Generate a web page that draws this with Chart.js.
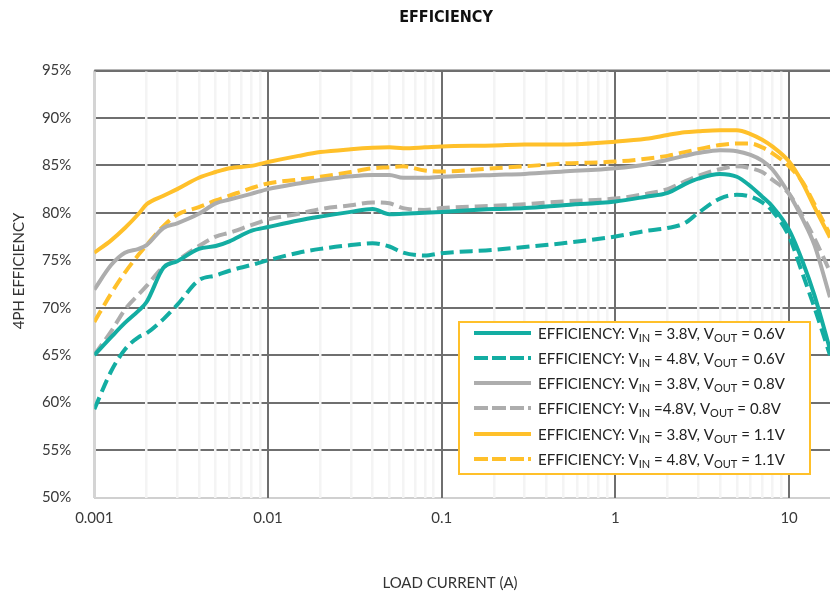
<!DOCTYPE html>
<html>
<head>
<meta charset="utf-8">
<style>
  html, body { margin: 0; padding: 0; background: #fff; }
  #wrap { width: 830px; height: 594px; }
</style>
<script src="https://cdn.jsdelivr.net/npm/chart.js@4.4.1/dist/chart.umd.min.js"></script>
</head>
<body>
<div id="wrap"><canvas id="eff-chart" width="830" height="594"></canvas></div>
<script>
// --- data (load current in A, efficiency in %) ---
const LOAD = [0.001, 0.00125, 0.0015, 0.0018, 0.002, 0.0025, 0.003, 0.004, 0.005, 0.006, 0.008,
  0.01, 0.015, 0.02, 0.03, 0.04, 0.05, 0.06, 0.08, 0.1, 0.2, 0.3, 0.5,
  1, 1.5, 2, 2.5, 3, 4, 5, 6, 7, 8, 10, 12, 14, 17.2];

const EFF_38_06 = [65.0, 66.9, 68.4, 69.7, 70.6, 74.2, 74.9, 76.2, 76.5, 77.0, 78.1,
  78.5, 79.2, 79.6, 80.1, 80.4, 79.85, 79.9, 80.0, 80.1, 80.4, 80.5, 80.8,
  81.2, 81.7, 82.1, 83.0, 83.6, 84.1, 83.8, 82.8, 81.7, 80.7, 78.2, 74.8, 71.3, 65.6];
const EFF_48_06 = [59.3, 63.3, 65.6, 66.9, 67.3, 68.8, 70.3, 72.9, 73.4, 73.9, 74.5,
  75.0, 75.8, 76.2, 76.6, 76.8, 76.45, 75.8, 75.5, 75.75, 76.1, 76.4, 76.8,
  77.5, 78.1, 78.4, 78.9, 80.0, 81.5, 81.9, 81.7, 81.1, 80.2, 77.5, 73.5, 70.0, 65.0];
const EFF_38_08 = [71.9, 74.5, 75.8, 76.2, 76.6, 78.4, 78.9, 79.9, 81.0, 81.4, 82.0,
  82.5, 83.1, 83.45, 83.85, 84.0, 84.0, 83.7, 83.7, 83.8, 84.0, 84.1, 84.35,
  84.7, 85.1, 85.6, 86.0, 86.3, 86.6, 86.5, 86.1, 85.5, 84.6, 82.0, 79.3, 76.6, 71.1];
const EFF_48_08 = [65.05, 67.5, 69.8, 71.4, 72.3, 74.3, 75.0, 76.5, 77.5, 77.9, 78.7,
  79.3, 79.9, 80.4, 80.8, 81.1, 81.0, 80.5, 80.3, 80.5, 80.75, 80.9, 81.2,
  81.5, 82.0, 82.5, 83.3, 83.9, 84.6, 84.9, 84.7, 84.3, 83.5, 82.0, 79.6, 77.3, 73.8];
const EFF_38_11 = [75.8, 77.1, 78.4, 79.9, 80.9, 81.8, 82.5, 83.7, 84.3, 84.7, 84.95,
  85.35, 86.0, 86.4, 86.7, 86.85, 86.9, 86.8, 86.9, 87.0, 87.1, 87.2, 87.2,
  87.5, 87.8, 88.2, 88.5, 88.6, 88.7, 88.7, 88.3, 87.7, 87.0, 85.4, 83.1, 80.6, 77.4];
const EFF_48_11 = [68.5, 71.5, 73.7, 75.6, 76.6, 78.6, 79.8, 80.6, 81.3, 81.8, 82.6,
  83.1, 83.5, 83.8, 84.3, 84.7, 84.8, 84.9, 84.45, 84.35, 84.7, 84.9, 85.2,
  85.4, 85.7, 86.0, 86.4, 86.7, 87.15, 87.3, 87.3, 86.9, 86.3, 84.9, 83.2, 80.9, 77.7];

// legend text pieces: normal, subscript, normal, subscript, normal
const LEGEND_TEXT = [
  ['EFFICIENCY: V', 'IN', ' = 3.8V, V', 'OUT', ' = 0.6V'],
  ['EFFICIENCY: V', 'IN', ' = 4.8V, V', 'OUT', ' = 0.6V'],
  ['EFFICIENCY: V', 'IN', ' = 3.8V, V', 'OUT', ' = 0.8V'],
  ['EFFICIENCY: V', 'IN', ' =4.8V, V', 'OUT', ' = 0.8V'],
  ['EFFICIENCY: V', 'IN', ' = 3.8V, V', 'OUT', ' = 1.1V'],
  ['EFFICIENCY: V', 'IN', ' = 4.8V, V', 'OUT', ' = 1.1V']
];

const X_MIN = 0.001;
const X_MAX = 17.2;
const DECADES = [0.001, 0.01, 0.1, 1, 10];
const X_TICK_LABELS = ['0.001', '0.01', '0.1', '1', '10'];

const TEAL = '#13ada2';
const GREY = '#adadad';
const GOLD = '#ffc02a';
const GRID = '#6f6f6f';
const FONT = 'Lato, "Open Sans", sans-serif';
const DASH = [13, 6];

const seriesList = [
  { data: EFF_38_06, color: TEAL, dashed: false },
  { data: EFF_48_06, color: TEAL, dashed: true },
  { data: EFF_38_08, color: GREY, dashed: false },
  { data: EFF_48_08, color: GREY, dashed: true },
  { data: EFF_38_11, color: GOLD, dashed: false },
  { data: EFF_48_11, color: GOLD, dashed: true }
];

const datasets = seriesList.map((s, i) => ({
  label: LEGEND_TEXT[i].join(''),
  data: LOAD.map((x, k) => ({ x: x, y: s.data[k] })),
  borderColor: s.color,
  borderWidth: 4,
  borderDash: s.dashed ? DASH : [],
  borderCapStyle: 'butt',
  pointRadius: 0,
  cubicInterpolationMode: 'monotone',
  fill: false
}));

// --- titles, top frame line, legend box ---
const decorPlugin = {
  id: 'decor',
  beforeDatasetsDraw(chart) {
    const { ctx, chartArea } = chart;
    const yTop = chart.scales.y.getPixelForValue(95);
    ctx.save();
    ctx.strokeStyle = GRID;
    ctx.lineWidth = 2;
    ctx.beginPath();
    ctx.moveTo(chartArea.left, yTop);
    ctx.lineTo(chartArea.right, yTop);
    ctx.stroke();
    ctx.restore();
  },
  afterDraw(chart) {
    const ctx = chart.ctx;
    ctx.save();
    ctx.fillStyle = '#111';
    ctx.textAlign = 'center';
    ctx.textBaseline = 'middle';
    ctx.font = 'bold 16px "Liberation Sans Narrow", "DejaVu Sans Condensed", sans-serif';
    ctx.fillText('EFFICIENCY', 446, 18);

    ctx.fillStyle = '#333';
    ctx.font = '15px ' + FONT;
    ctx.fillText('LOAD CURRENT (A)', 450, 583);
    ctx.save();
    ctx.translate(19, 271);
    ctx.rotate(-Math.PI / 2);
    ctx.fillText('4PH EFFICIENCY', 0, 0);
    ctx.restore();

    // legend
    const bx = 459, by = 322, bw = 351, bh = 152;
    ctx.fillStyle = '#fff';
    ctx.fillRect(bx, by, bw, bh);
    ctx.strokeStyle = GOLD;
    ctx.lineWidth = 2;
    ctx.strokeRect(bx, by, bw, bh);

    const rowY = [333, 358, 383, 408, 434, 459];
    seriesList.forEach((s, i) => {
      const y = rowY[i];
      ctx.strokeStyle = s.color;
      ctx.lineWidth = 4;
      ctx.lineCap = 'butt';
      ctx.setLineDash(s.dashed ? [14, 4] : []);
      ctx.beginPath();
      ctx.moveTo(474, y);
      ctx.lineTo(531, y);
      ctx.stroke();
      ctx.setLineDash([]);

      let x = 538;
      ctx.textAlign = 'left';
      ctx.textBaseline = 'alphabetic';
      ctx.fillStyle = '#222';
      LEGEND_TEXT[i].forEach((part, k) => {
        const isSub = k % 2 === 1;
        ctx.font = (isSub ? '11px ' : '15px ') + FONT;
        ctx.fillText(part, x, y + (isSub ? 9 : 6));
        x += ctx.measureText(part).width;
      });
    });
    ctx.restore();
  }
};

const chart = new Chart(document.getElementById('eff-chart'), {
  type: 'line',
  data: { datasets: datasets },
  options: {
    responsive: false,
    animation: false,
    layout: { padding: { top: 70.5, right: 0, bottom: 0, left: 0 } },
    plugins: {
      legend: { display: false },
      title: { display: false },
      tooltip: { enabled: false }
    },
    scales: {
      y: {
        min: 50,
        max: 95,
        afterFit: (scale) => { scale.width = 94.3; },
        border: { display: false },
        grid: {
          z: -2,
          drawTicks: false,
          lineWidth: 2,
          color: (c) => (c.tick && c.tick.value === 50 ? '#d0d0d0' : GRID)
        },
        ticks: {
          stepSize: 5,
          padding: 23,
          color: '#3a3a3a',
          font: { family: FONT, size: 15 },
          callback: (v) => v + '%'
        }
      },
      x: {
        type: 'logarithmic',
        min: X_MIN,
        max: X_MAX,
        afterFit: (scale) => { scale.height = 96.5; },
        afterBuildTicks: (scale) => {
          const ticks = [];
          DECADES.forEach((d) => {
            for (let m = 1; m <= 9; m++) {
              const v = d * m;
              if (v <= X_MAX * 1.0001) ticks.push({ value: v });
            }
          });
          scale.ticks = ticks;
        },
        border: { display: false },
        grid: {
          z: -1,
          drawTicks: false,
          color: (c) => {
            const v = c.tick ? c.tick.value : 0;
            const idx = DECADES.findIndex((d) => Math.abs(v / d - 1) < 1e-6);
            if (idx === 0) return '#d4d4d4';
            return idx > 0 ? GRID : '#f4f4f4';
          },
          lineWidth: (c) => {
            const v = c.tick ? c.tick.value : 0;
            const idx = DECADES.findIndex((d) => Math.abs(v / d - 1) < 1e-6);
            if (idx === 0) return 3;
            return idx > 0 ? 2 : 2.5;
          }
        },
        ticks: {
          padding: 12,
          autoSkip: false,
          maxRotation: 0,
          color: '#3a3a3a',
          font: { family: FONT, size: 15 },
          callback: (v) => {
            const idx = DECADES.findIndex((d) => Math.abs(v / d - 1) < 1e-6);
            return idx >= 0 ? X_TICK_LABELS[idx] : '';
          }
        }
      }
    }
  },
  plugins: [decorPlugin]
});
</script>
</body>
</html>
